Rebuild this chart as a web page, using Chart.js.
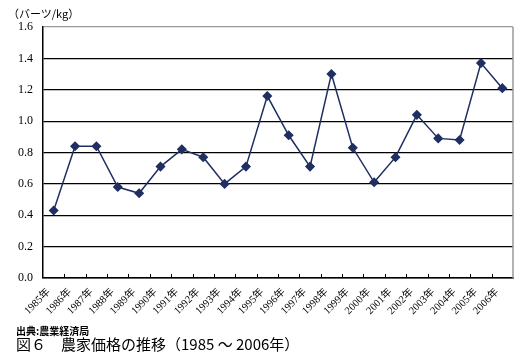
<!DOCTYPE html>
<html><head><meta charset="utf-8">
<script src="https://cdn.jsdelivr.net/npm/chart.js@4/dist/chart.umd.min.js"></script>
<style>
html,body{margin:0;padding:0;background:#fff;}
#wrap{position:relative;width:528px;height:356px;overflow:hidden;}
canvas{position:absolute;left:0;top:0;}
.t{position:absolute;white-space:nowrap;color:#000;}
#unit{left:8px;top:5px;font:11px "Noto Sans CJK JP";}
#src{left:16px;top:323px;font:bold 10px "Noto Sans CJK JP";}
#cap{left:16px;top:335px;font:15px "Noto Sans CJK JP";line-height:18px;}
</style></head>
<body><div id="wrap">
<canvas id="c" width="528" height="356"></canvas>
<div class="t" id="unit">（バーツ/kg）</div>
<div class="t" id="src">出典:農業経済局</div>
<div class="t" id="cap">図６　農家価格の推移（1985 ～ 2006年）</div>
</div>
<script>
const years = ["1985年","1986年","1987年","1988年","1989年","1990年","1991年","1992年","1993年","1994年","1995年","1996年","1997年","1998年","1999年","2000年","2001年","2002年","2003年","2004年","2005年","2006年"];
const prices = [0.43,0.84,0.84,0.58,0.54,0.71,0.82,0.77,0.60,0.71,1.16,0.91,0.71,1.30,0.83,0.61,0.77,1.04,0.89,0.88,1.37,1.21];
const yTicks = [0.0,0.2,0.4,0.6,0.8,1.0,1.2,1.4,1.6];

const deco = {
  id:'deco',
  afterDatasetsDraw(chart){
    const {ctx, chartArea:a, scales:{x}} = chart;
    ctx.save();
    ctx.strokeStyle = '#999';
    ctx.lineWidth = 1.5;
    ctx.beginPath();
    ctx.moveTo(a.right, a.top); ctx.lineTo(a.right, a.bottom);
    ctx.stroke();
    ctx.strokeStyle = '#000';
    ctx.lineWidth = 1;
    ctx.beginPath();
    for(let i=1;i<years.length;i++){
      const px = Math.round((x.getPixelForValue(i-1)+x.getPixelForValue(i))/2)+0.5;
      ctx.moveTo(px, a.bottom); ctx.lineTo(px, a.bottom-4);
    }
    ctx.stroke();
    ctx.restore();
  }
};

new Chart(document.getElementById('c'), {
  type:'line',
  data:{labels:years, datasets:[{
    data:prices,
    borderColor:'#1f2f62',
    backgroundColor:'#1f2f62',
    borderWidth:1.5,
    pointStyle:'rectRot',
    pointRadius:4,
    pointHoverRadius:4,
    tension:0
  }]},
  options:{
    responsive:false, animation:false, devicePixelRatio:1,
    layout:{padding:{top:27,right:15,left:0,bottom:33}},
    plugins:{legend:{display:false}, tooltip:{enabled:false}},
    scales:{
      x:{
        offset:true,
        grid:{display:false},
        border:{color:'#000',width:1.5},
        ticks:{maxRotation:45,minRotation:45,autoSkip:false,padding:0,labelOffset:-5,color:'#000',
               font:{family:'"Liberation Serif","Noto Sans CJK JP"',size:10.5}},
        afterFit(s){s.height=45;}
      },
      y:{
        min:0,max:1.6,
        afterBuildTicks(s){s.ticks = yTicks.map(v=>({value:v}));},
        grid:{color:(c)=> c.tick && c.tick.value===1.6 ? '#999' : '#000', lineWidth:1.2, drawTicks:false},
        border:{color:'#000',width:1.5},
        ticks:{padding:10,color:'#000',callback:(v)=>v.toFixed(1),
               font:{family:'"Liberation Serif"',size:12}},
        afterFit(s){s.width=43;}
      }
    }
  },
  plugins:[deco]
});
</script>
</body></html>
